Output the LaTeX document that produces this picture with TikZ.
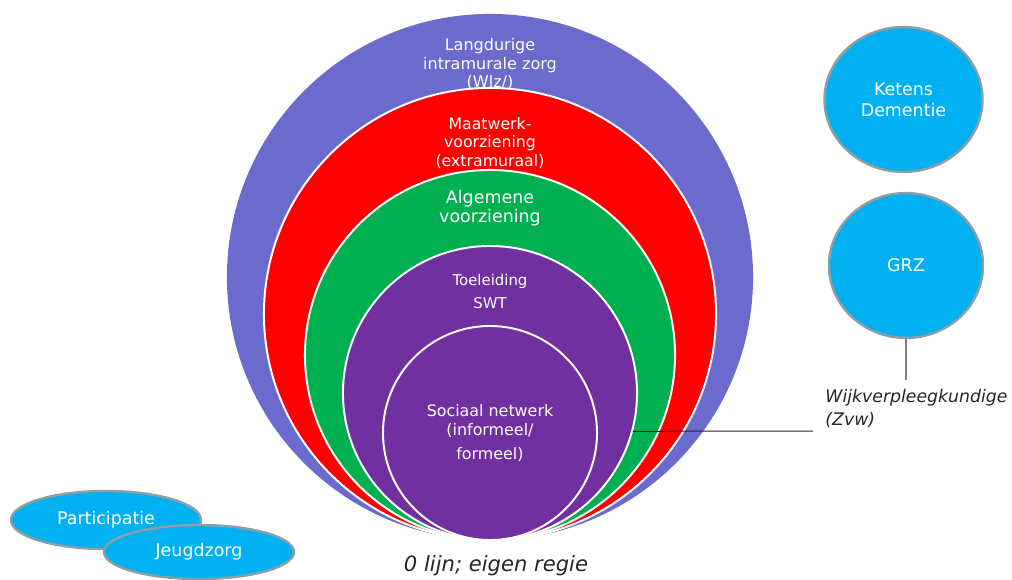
\documentclass[tikz,border=0pt]{standalone}
\usepackage{fontspec}
\setmainfont{DejaVu Sans}
\usetikzlibrary{positioning, shapes.geometric}

\definecolor{wlzblue}{HTML}{6B6BCD}
\definecolor{mwred}{HTML}{FF0000}
\definecolor{avgreen}{HTML}{00B050}
\definecolor{swtpurple}{HTML}{7030A0}
\definecolor{blobcyan}{HTML}{00B0F0}
\definecolor{blobgray}{HTML}{8C9FA4}
\definecolor{notegray}{HTML}{262626}

\begin{document}
\begin{tikzpicture}[x=0.025cm, y=-0.025cm, semithick,
  ring/.style={circle, draw=white, line width=1.4pt, inner sep=0pt},
  ringtext/.style={text=white, align=center, font=\fontsize{11.4}{12.9}\selectfont},
  blob/.style={ellipse, fill=blobcyan, draw=blobgray, line width=1.7pt, text=white,
    inner sep=0pt, align=center, font=\fontsize{12.4}{15}\selectfont},
  note/.style={text=notegray, align=left, inner sep=0pt},
]
  \useasboundingbox (0,0) rectangle (1012,579);

  % nested circles, all touching at the bottom
  \node[circle, fill=wlzblue, inner sep=0pt, minimum size=13.15cm] (wlz) at (490,277) {};
  \node[ring, fill=mwred, minimum size=11.3cm] (maatwerk) at (490,314) {};
  \node[ring, fill=avgreen, minimum size=9.25cm] (algemeen) at (490,355) {};
  \node[ring, fill=swtpurple, minimum size=7.35cm] (swt) at (490,393) {};
  \node[ring, fill=swtpurple, minimum size=5.35cm, ringtext,
        font=\fontsize{11.3}{13.5}\selectfont] (sociaal) at (490,433)
        {Sociaal netwerk\\(informeel/\\[4pt]formeel)};

  % ring labels
  \node[ringtext] (wlztext) at (490,64) {Langdurige\\intramurale zorg\\(Wlz/)};
  \node[ringtext, font=\fontsize{11.2}{12.9}\selectfont] (mwtext) at (490,143) {Maatwerk-\\voorziening\\(extramuraal)};
  \node[ringtext, font=\fontsize{12.4}{13.6}\selectfont] (avtext) at (490,208) {Algemene\\voorziening};
  \node[ringtext, font=\fontsize{10.6}{16.4}\selectfont] (swttext) at (490,291) {Toeleiding\\SWT};

  % right hand side
  \node[blob, minimum width=3.95cm, minimum height=3.62cm] (ketens) at (903.5,99.5) {Ketens\\Dementie};
  \node[blob, minimum width=3.85cm, minimum height=3.62cm] (grz) at (906,265.5) {GRZ};
  \coordinate (grzend) at (906,380);
  \draw[color=black!50, line width=1pt] (grz.south) -- (grzend);

  \node[note, anchor=north west, font=\fontsize{12.3}{16.5}\selectfont\itshape] (wvk) at (825,389)
        {Wijkverpleegkundige\\(Zvw)};
  \coordinate (wvkend) at (813,431);
  \draw[color=notegray, line width=0.7pt] (swt.-15) -- (wvkend);

  % bottom left
  \node[blob, minimum width=4.75cm, minimum height=1.45cm] (participatie) at (106,520) {Participatie};
  \node[blob, minimum width=4.75cm, minimum height=1.35cm] (jeugdzorg) at (199,552) {Jeugdzorg};

  \node[note, font=\fontsize{15}{17}\selectfont\itshape] (eigenregie) at (496,566) {0 lijn; eigen regie};
\end{tikzpicture}
\end{document}
